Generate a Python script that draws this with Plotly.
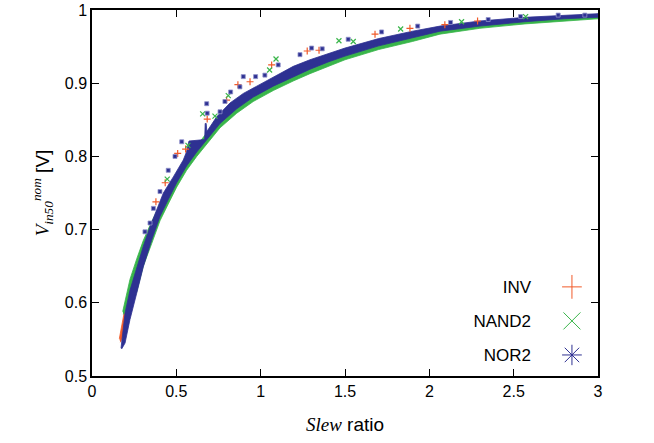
import plotly.graph_objects as go

# ---- data ----
# NOR2 band edges (upper / lower)
nor2_up_x = [0.172, 0.185, 0.196, 0.225, 0.265, 0.304, 0.344, 0.384, 0.423, 0.482, 0.541, 0.560, 0.575, 0.668, 0.671, 0.677, 0.681, 0.739, 0.818, 0.897, 0.996, 1.095, 1.193, 1.292, 1.400, 1.500, 1.700, 1.900, 2.063, 2.300, 2.567, 2.800, 3.000]
nor2_up_y = [0.538, 0.562, 0.586, 0.617, 0.649, 0.677, 0.704, 0.727, 0.750, 0.772, 0.795, 0.806, 0.821, 0.823, 0.845, 0.845, 0.834, 0.854, 0.873, 0.886, 0.898, 0.911, 0.923, 0.932, 0.940, 0.948, 0.961, 0.971, 0.978, 0.985, 0.990, 0.993, 0.995]
nor2_lo_x = [0.176, 0.196, 0.225, 0.265, 0.304, 0.354, 0.403, 0.452, 0.502, 0.561, 0.621, 0.680, 0.759, 0.858, 0.956, 1.075, 1.193, 1.292, 1.400, 1.500, 1.700, 1.900, 2.063, 2.300, 2.567, 2.800, 3.000]
nor2_lo_y = [0.537, 0.545, 0.577, 0.613, 0.649, 0.686, 0.718, 0.741, 0.764, 0.787, 0.806, 0.823, 0.845, 0.865, 0.881, 0.896, 0.909, 0.919, 0.929, 0.937, 0.951, 0.962, 0.971, 0.978, 0.984, 0.988, 0.990]

# NAND2 band edges
nand2_up_x = [0.182, 0.196, 0.225, 0.265, 0.304, 0.344, 0.384, 0.482, 0.600, 0.739, 0.897, 1.095, 1.292, 1.500, 2.063, 2.567, 3.000]
nand2_up_y = [0.588, 0.603, 0.632, 0.660, 0.685, 0.706, 0.725, 0.768, 0.808, 0.850, 0.882, 0.907, 0.929, 0.945, 0.976, 0.988, 0.994]
nand2_lo_x = [0.186, 0.225, 0.265, 0.304, 0.354, 0.403, 0.452, 0.502, 0.561, 0.621, 0.680, 0.759, 0.858, 0.956, 1.075, 1.193, 1.292, 1.400, 1.500, 1.700, 1.900, 2.063, 2.300, 2.567, 2.800, 3.000]
nand2_lo_y = [0.584, 0.595, 0.615, 0.650, 0.681, 0.712, 0.735, 0.758, 0.781, 0.800, 0.817, 0.839, 0.859, 0.875, 0.890, 0.903, 0.913, 0.923, 0.932, 0.946, 0.957, 0.967, 0.975, 0.981, 0.985, 0.988]

# INV band edges
inv_up_x = [0.162, 0.180, 0.196, 0.225, 0.265, 0.304, 0.344, 0.423, 0.541, 0.640, 0.739, 0.897, 1.095, 1.292, 1.500, 2.063, 2.567, 3.000]
inv_up_y = [0.551, 0.572, 0.593, 0.620, 0.648, 0.675, 0.700, 0.745, 0.790, 0.815, 0.850, 0.882, 0.907, 0.929, 0.944, 0.975, 0.988, 0.994]
inv_lo_x = [0.168, 0.196, 0.225, 0.265, 0.304, 0.354, 0.403, 0.452, 0.502, 0.561, 0.621, 0.680, 0.759, 0.858, 0.956, 1.075, 1.193, 1.292, 1.400, 1.500, 1.700, 1.900, 2.063, 2.300, 2.567, 2.800, 3.000]
inv_lo_y = [0.546, 0.560, 0.585, 0.620, 0.655, 0.690, 0.722, 0.745, 0.768, 0.791, 0.810, 0.827, 0.849, 0.869, 0.885, 0.900, 0.913, 0.923, 0.933, 0.941, 0.954, 0.965, 0.974, 0.981, 0.987, 0.990, 0.992]

# scattered points above the bands
nor2_out_x = [0.314, 0.344, 0.364, 0.403, 0.452, 0.492, 0.532, 0.680, 0.683, 0.759, 0.788, 0.822, 0.877, 0.897, 0.970, 1.025, 1.104, 1.233, 1.302, 1.365, 1.519, 1.717, 1.931, 2.126, 2.349, 2.541, 2.764, 2.922]
nor2_out_y = [0.697, 0.709, 0.729, 0.752, 0.781, 0.800, 0.820, 0.872, 0.859, 0.861, 0.875, 0.888, 0.895, 0.909, 0.909, 0.911, 0.925, 0.939, 0.948, 0.947, 0.960, 0.970, 0.978, 0.983, 0.987, 0.991, 0.993, 0.993]
inv_out_x = [0.379, 0.434, 0.508, 0.555, 0.683, 0.798, 0.865, 0.937, 1.065, 1.276, 1.346, 1.678, 1.885, 2.092, 2.286]
inv_out_y = [0.738, 0.764, 0.804, 0.810, 0.851, 0.877, 0.898, 0.902, 0.925, 0.944, 0.945, 0.967, 0.975, 0.980, 0.985]
nand2_out_x = [0.446, 0.569, 0.656, 0.729, 0.808, 1.053, 1.091, 1.464, 1.549, 1.830, 2.191, 2.571]
nand2_out_y = [0.769, 0.815, 0.858, 0.855, 0.883, 0.918, 0.933, 0.958, 0.957, 0.974, 0.984, 0.991]

names = ["INV", "NAND2", "NOR2"]
RED, GREEN, BLUE = "#f15a29", "#39b54a", "#2e3192"

x_ticks = [0, 0.5, 1, 1.5, 2, 2.5, 3]
y_ticks = [0.5, 0.6, 0.7, 0.8, 0.9, 1.0]

fig = go.Figure()

def band(xu, yu, xl, yl, color):
    fig.add_trace(go.Scatter(
        x=list(xu) + list(reversed(xl)), y=list(yu) + list(reversed(yl)),
        mode="lines", fill="toself", fillcolor=color,
        line=dict(color=color, width=0.8), showlegend=False, hoverinfo="skip"))

band(inv_up_x, inv_up_y, inv_lo_x, inv_lo_y, RED)
band(nand2_up_x, nand2_up_y, nand2_lo_x, nand2_lo_y, GREEN)
band(nor2_up_x, nor2_up_y, nor2_lo_x, nor2_lo_y, BLUE)

fig.add_trace(go.Scatter(x=inv_out_x, y=inv_out_y, mode="markers", showlegend=False,
                         marker=dict(symbol="cross-thin", size=5, line=dict(color=RED, width=1.2))))
fig.add_trace(go.Scatter(x=nand2_out_x, y=nand2_out_y, mode="markers", showlegend=False,
                         marker=dict(symbol="x-thin", size=5, line=dict(color=GREEN, width=1.2))))
fig.add_trace(go.Scatter(x=nor2_out_x, y=nor2_out_y, mode="markers", showlegend=False,
                         marker=dict(symbol="square", size=4, color=BLUE, line=dict(color="#8f91c9", width=0.8))))

# key: symbols on a small categorical inset axis, names as its tick labels
for n, sym, col in zip(names, ["cross-thin", "x-thin", "asterisk"], [RED, GREEN, BLUE]):
    fig.add_trace(go.Scatter(x=["key"], y=[n], xaxis="x2", yaxis="y2", mode="markers",
                             showlegend=False, hoverinfo="skip",
                             marker=dict(symbol=sym, size=17, color=col, line=dict(color=col, width=1))))

axis_common = dict(showgrid=False, zeroline=False, showline=True, linecolor="black", linewidth=1.5,
                   mirror="ticks", ticks="inside", ticklen=7, tickwidth=1.2, tickcolor="black",
                   tickfont=dict(size=16), automargin=False, ticklabeloverflow="allow")

fig.update_layout(
    width=654, height=443,
    margin=dict(l=92, r=56, t=10, b=67),
    paper_bgcolor="white", plot_bgcolor="white",
    font=dict(family="Liberation Sans", size=16, color="black"),
    showlegend=False,
    xaxis=dict(range=[0, 3], tickvals=x_ticks, ticktext=[f"{v:g}" for v in x_ticks],
               title=dict(text="<span style='font-family:Liberation Serif'><i>Slew</i></span> ratio",
                          font=dict(size=19), standoff=19), **axis_common),
    yaxis=dict(range=[0.5, 1.0], tickvals=y_ticks, ticktext=[f"{v:g}" for v in y_ticks],
               title=dict(text="<span style='font-family:Liberation Serif'><i>V</i><sub><i>in50</i></sub><sup><i>nom</i></sup></span> [V]",
                          font=dict(size=19), standoff=10), **axis_common),
    xaxis2=dict(domain=[0.929, 0.968], anchor="y2", type="category", range=[-0.5, 0.5],
                showgrid=False, zeroline=False, showline=False, showticklabels=False, ticks=""),
    yaxis2=dict(domain=[0.011, 0.290], anchor="x2", type="category",
                categoryorder="array", categoryarray=["NOR2", "NAND2", "INV"], range=[-0.5, 2.5],
                showgrid=False, zeroline=False, showline=False, ticks="",
                ticklabelstandoff=30, tickfont=dict(size=17, color="black")),
)

fig.write_html("out.html", config={"displayModeBar": False},
               post_script="document.body.style.margin='0';")
